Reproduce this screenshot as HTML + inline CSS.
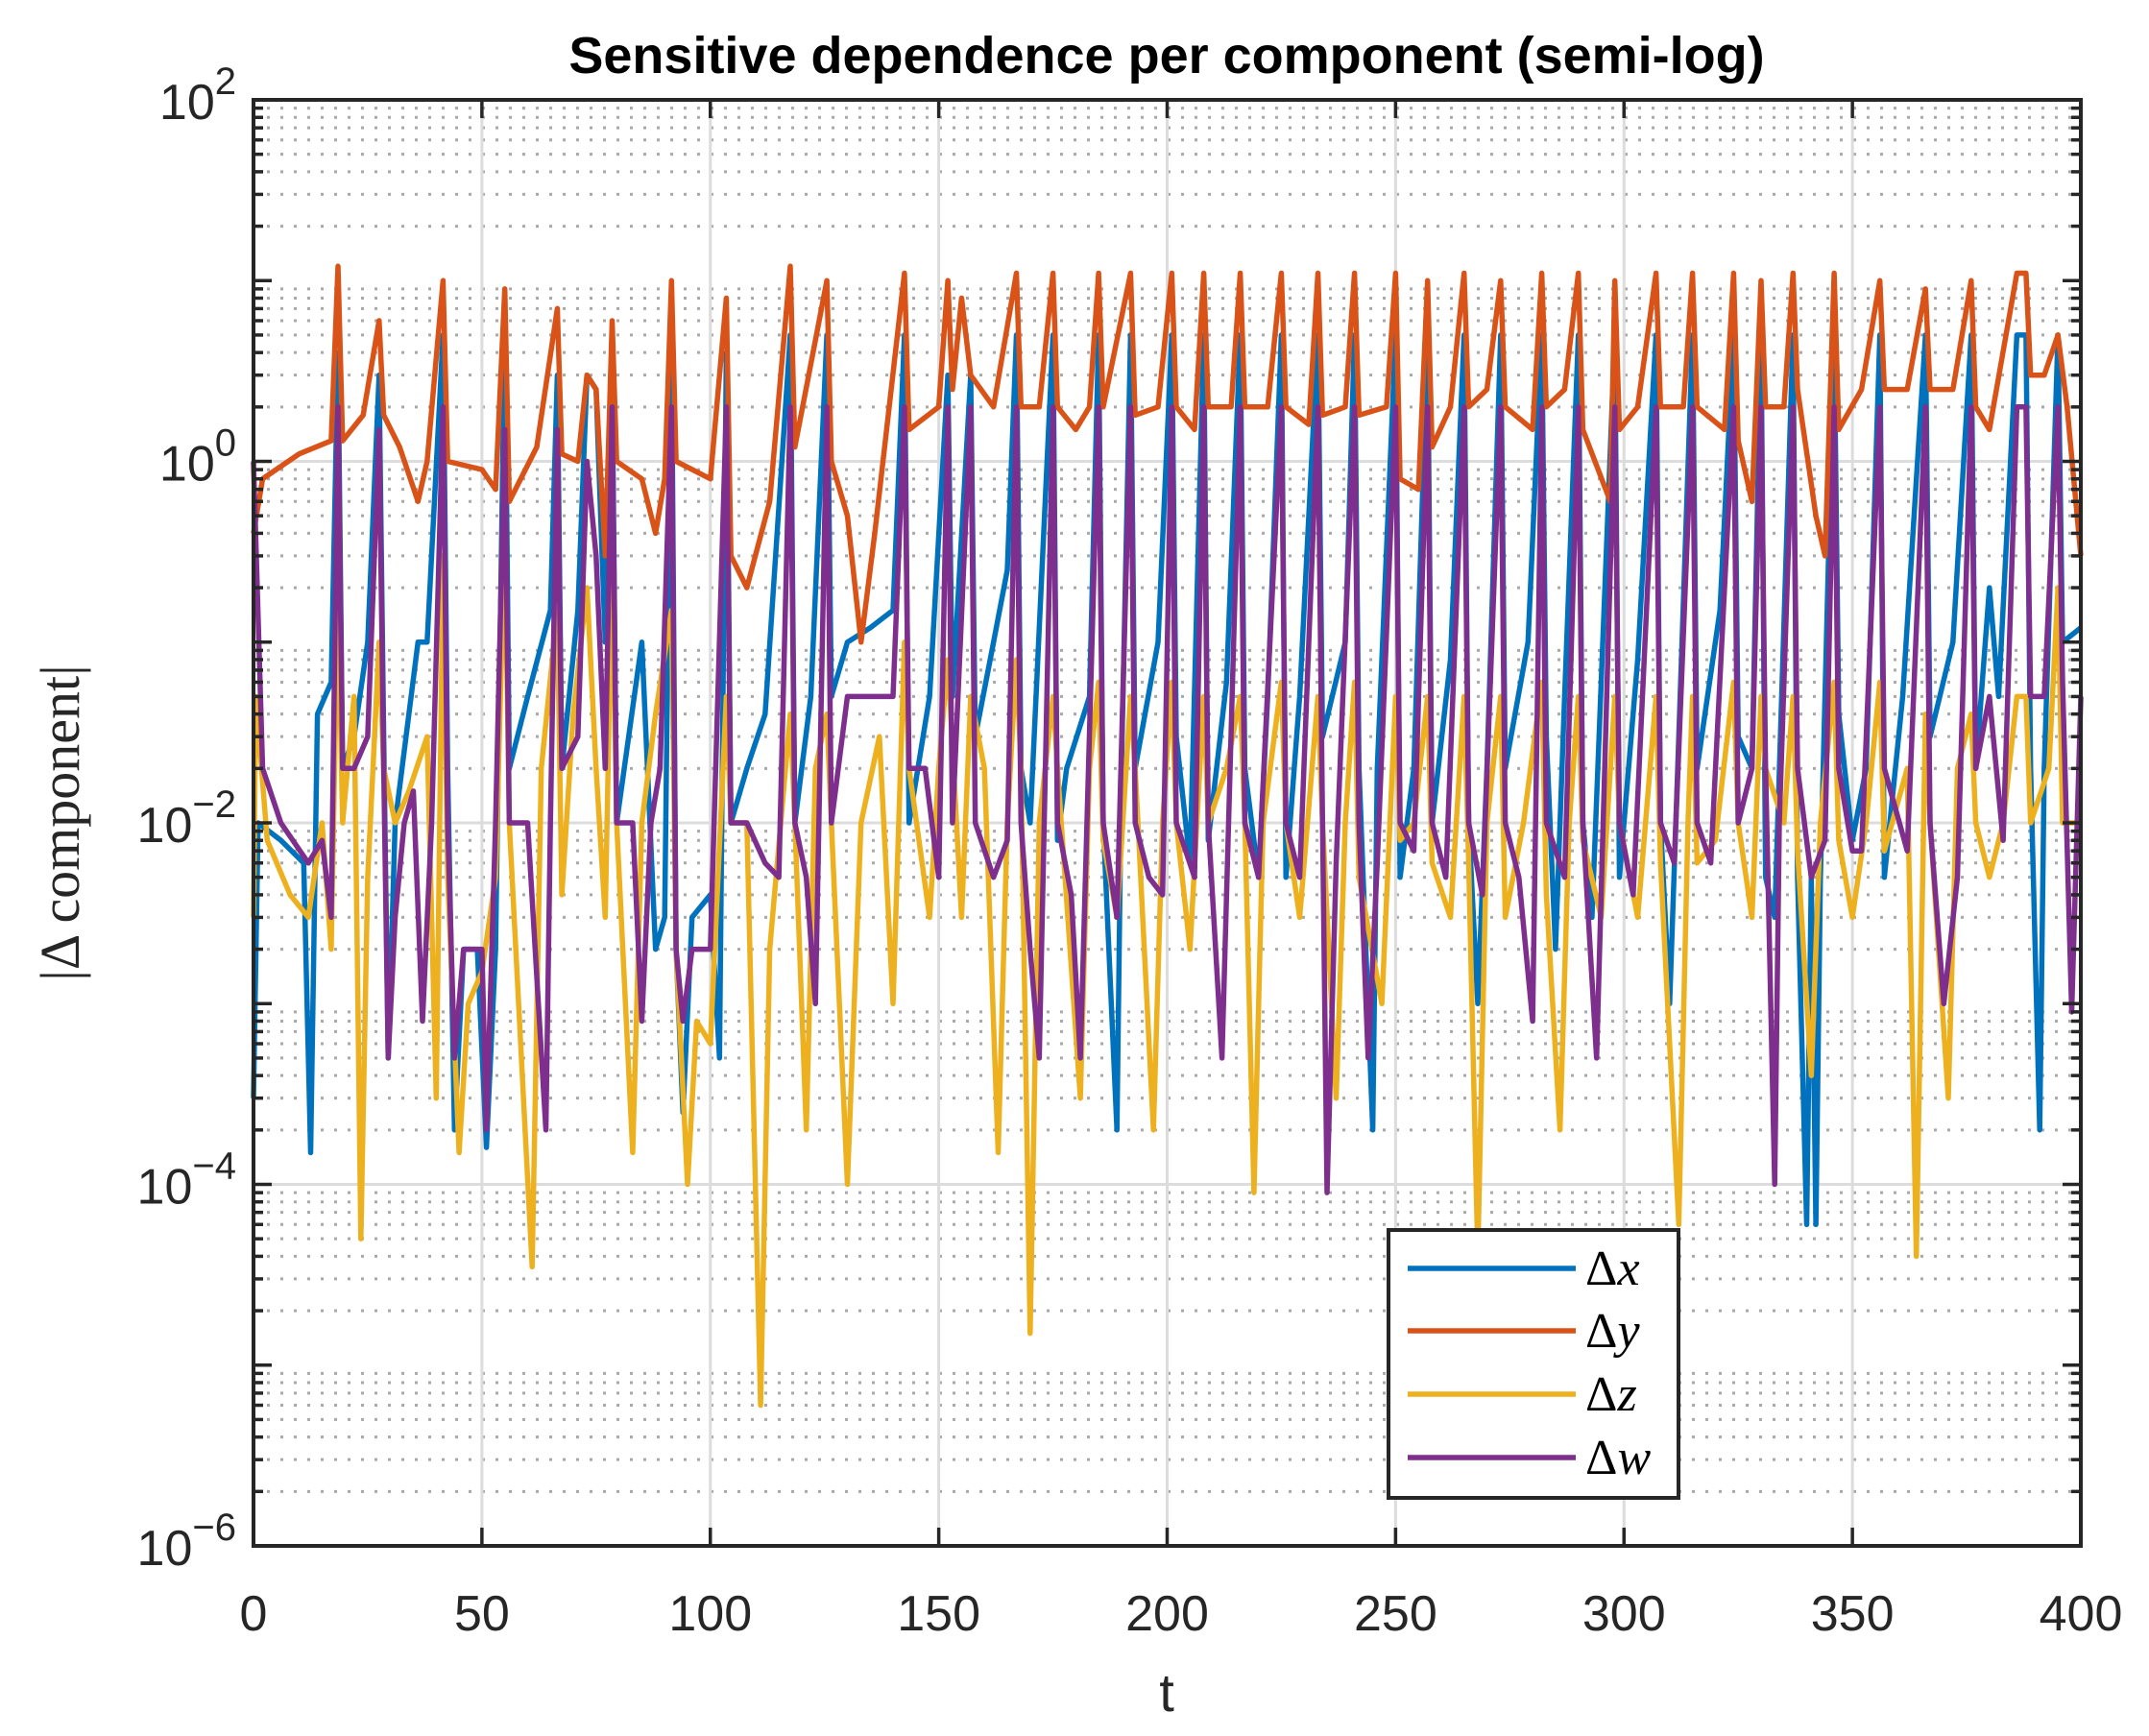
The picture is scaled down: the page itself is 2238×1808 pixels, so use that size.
<!DOCTYPE html>
<html><head><meta charset="utf-8"><style>
html,body{margin:0;padding:0;background:#fff;}
svg{display:block;font-family:"Liberation Sans",sans-serif;}
</style></head><body>
<svg id="chart" width="2238" height="1808" viewBox="0 0 2238 1808" xmlns="http://www.w3.org/2000/svg">
<rect width="2238" height="1808" fill="#fff"/>
<g id="grid"></g>
<g id="series"></g>
<g id="axes"></g>
<text x="1215" y="76" text-anchor="middle" font-size="54" font-weight="bold" fill="#000">Sensitive dependence per component (semi-log)</text>
<text x="1215" y="1782" text-anchor="middle" font-size="56" fill="#262626">t</text>
<text transform="translate(82,857) rotate(-90)" text-anchor="middle" font-size="58" font-family="Liberation Serif, serif" fill="#262626">|Δ component|</text>
<g id="legend"></g>
</svg>
<script>
const xTicks=[0,50,100,150,200,250,300,350,400];
const yDecades=[-6,-4,-2,0,2];
const seriesNames=["Δx","Δy","Δz","Δw"];
const seriesColors=["#0072BD","#D95319","#EDB120","#7E2F8E"];

const dxT=[0,1,6,11,12.5,14,17,18.5,19.5,22,25,27.5,28.5,29.5,31,36,38,41.5,42.5,44,46,49,51,53,55,56,60,65,66.5,67.5,71,73,75,77,78.5,79.5,85,88,90,91.5,92.5,94,96,100,102,103.5,104.5,108,112,117.5,118.5,122,125.5,126.5,130,135,140,142.5,143.5,148,152,153,157,158,162,165,167,168,170,175,176,178,183,185,186,189,190,192,193,198,201,202,205,208,209,213,216,217,220,222,225,226,229,233,234,239,241,242,245,246,250,251,254,257,258,262,265,266,268,270,273,274,279,282,283,285,287,290,291,293,298,299,303,307,308,310,312,315,316,321,324,325,328,330,331,333,337,338,340,341,342,343,346,347,350,353,356,357,361,366,367,372,376,377,380,382,386,388,389,391,392,395,396,400];
const dxV=[3e-4,0.01,0.008,0.006,1.5e-4,0.04,0.06,4,0.02,0.03,0.1,3,0.03,5e-4,0.01,0.1,0.1,5,0.02,2e-4,0.002,0.002,1.6e-4,0.002,6,0.02,0.05,0.15,3,0.02,0.15,3,2.5,0.1,3,0.01,0.1,0.002,0.003,5,0.002,2.5e-4,0.003,0.004,5e-4,4,0.01,0.02,0.04,5,0.01,0.05,5,0.05,0.1,0.12,0.15,5,0.01,0.05,3,0.05,3,0.03,0.1,0.25,5,0.02,0.01,5,0.008,0.02,0.05,5,0.01,2e-4,0.02,5,0.02,0.1,5,0.03,0.006,5,0.008,0.06,5,0.02,0.005,0.05,5,0.005,0.05,5,0.03,0.1,5,0.02,2e-4,0.02,5,0.005,0.02,5,0.01,0.08,5,0.01,0.001,0.02,5,0.02,0.1,5,0.03,0.002,0.05,5,0.01,0.003,5,0.005,0.08,5,0.01,0.001,0.03,5,0.02,0.15,5,0.03,0.02,5,0.005,0.003,5,0.005,6e-5,0.005,6e-5,0.005,5,0.04,0.008,0.02,5,0.005,0.05,5,0.03,0.1,5,0.02,0.2,0.05,5,5,0.02,2e-4,0.02,5,0.1,0.12];

const dyT=[0,2,10,17,18.5,19.5,24,27.5,28.5,32,36,38,41.5,42.5,50,53,55,56,62,66.5,67.5,71,73,75,77,78.5,79.5,85,88,90,91.5,92.5,100,103.5,104.5,108,113,117.5,118.5,125.5,126.5,130,133,136,142.5,143.5,150,152,153,155,157,162,167,168,172,175,176,180,183,185,186,192,193,198,201,202,206,208,209,214,216,217,222,225,226,231,233,234,239,241,242,248,250,251,255,257,258,262,265,266,270,273,274,280,282,283,287,290,291,297,298,299,303,307,308,313,315,316,322,324,325,328,330,331,335,337,338,342,344,346,347,352,356,357,362,366,367,372,376,377,380,386,388,389,392,395,397,400];
const dyV=[0.4,0.8,1.1,1.3,12,1.3,1.8,6,1.8,1.2,0.6,1.0,10,1,0.9,0.7,9,0.6,1.2,7,1.1,1.0,3,2.5,0.3,6,1,0.8,0.4,0.8,10,1,0.8,8,0.3,0.2,0.6,12,1.2,10,1,0.5,0.1,0.4,11,1.5,2,10,2.5,8,3,2,11,2,2,11,2,1.5,2,11,2,11,1.8,2,11,2,1.5,11,2,2,11,2,2,11,2,1.6,11,1.8,2,11,1.8,2,11,0.8,0.7,10,1.2,2,11,2,2.5,10,2,1.5,11,2,2.5,11,1.5,0.6,10,1.5,2,11,2,2,11,2,1.5,11,1.3,0.6,10,2,2,11,2.5,0.5,0.3,11,1.5,2.5,10,2.5,2.5,9,2.5,2.5,10,2,1.5,11,11,3,3,5,2,0.3];

const dzT=[0,0.5,3,8,12,15,17,18.5,19.5,22,23.5,25,27.5,28.5,31,34,38,40,41.5,42.5,45,47,50,53,55,56,61,63,66.5,67.5,70,73,75,77,78.5,79.5,83,85,88,91.5,92.5,95,97,100,103.5,104.5,108,111,113,117.5,118.5,121,123,125.5,126.5,130,133,137,140,142.5,143.5,148,150,152,155,157,160,163,165,167,168,170,172,175,176,181,183,185,186,189,192,193,197,199,201,202,205,208,209,213,216,217,219,221,225,226,229,233,234,237,239,241,242,247,250,251,254,257,258,262,265,266,268,270,273,274,278,282,283,286,288,290,291,295,298,299,303,307,308,312,314,315,316,320,324,325,328,330,331,335,337,338,341,343,346,347,350,353,356,357,362,364,366,367,371,373,376,377,380,383,386,388,389,393,395,396,400];
const dzV=[0.003,0.05,0.008,0.004,0.003,0.01,0.002,0.2,0.01,0.05,5e-5,0.005,0.1,0.02,0.01,0.015,0.03,3e-4,0.3,0.005,1.5e-4,0.001,0.0015,0.005,0.4,0.01,3.5e-5,0.02,0.15,0.004,0.04,0.2,0.02,0.003,0.3,0.01,1.5e-4,0.01,0.04,0.15,0.002,1e-4,8e-4,6e-4,0.05,0.01,0.01,6e-6,0.002,0.04,0.01,2e-4,0.02,0.04,0.01,1e-4,0.01,0.03,1e-3,0.1,0.02,0.003,0.02,0.08,0.003,0.05,0.02,1.5e-4,0.01,0.08,0.02,1.5e-5,0.01,0.05,0.02,3e-4,0.02,0.06,0.008,0.003,0.05,0.02,2e-4,0.01,0.06,0.01,0.002,0.05,0.01,0.02,0.05,0.01,9e-5,0.01,0.06,0.01,0.003,0.05,0.01,3e-4,0.01,0.06,0.005,0.001,0.05,0.008,0.01,0.05,0.006,0.003,0.05,0.006,4e-5,0.01,0.05,0.003,0.01,0.06,0.004,2e-4,0.01,0.05,0.008,0.003,0.05,0.01,0.003,0.05,0.006,6e-5,0.01,0.05,0.006,0.008,0.06,0.01,0.003,0.05,0.02,0.01,0.05,0.007,4e-4,0.01,0.06,0.008,0.003,0.01,0.06,0.007,0.02,4e-5,0.04,0.01,3e-4,0.02,0.04,0.01,0.005,0.01,0.05,0.05,0.01,0.02,0.2,0.01,0.01];

const dwT=[0,2,6,12,15,17,18.5,19.5,22,25,27.5,28.5,29.5,31,33,35,37,39,41.5,42.5,44,46,50,51,53,55,56,60,64,65,66.5,67.5,71,73,75,77,78.5,79.5,83,85,87,89,91.5,92.5,94,96,100,103.5,104.5,108,112,115,117.5,118.5,121,123,125.5,126.5,130,136,140,142.5,143.5,147,150,152,153,157,158,162,165,167,168,170,172,175,176,179,181,185,186,189,192,193,196,199,201,202,206,208,209,212,216,217,220,225,226,229,233,234,235,237,241,242,244,246,250,251,254,257,258,261,265,266,269,273,274,277,280,282,283,287,290,291,294,298,299,302,307,308,311,315,316,319,324,325,328,330,331,333,334,337,338,341,344,346,347,350,352,356,357,362,366,367,370,373,376,377,380,383,386,388,389,392,395,396,398,400];
const dwV=[1.0,0.02,0.01,0.006,0.008,0.003,2,0.02,0.02,0.03,1.5,0.02,5e-4,0.003,0.01,0.015,8e-4,0.01,2,0.01,5e-4,0.002,0.002,2e-4,0.01,1.5,0.01,0.01,2e-4,0.01,1.5,0.02,0.03,1,0.3,0.02,2,0.01,0.01,8e-4,0.01,0.02,2,0.002,8e-4,0.002,0.002,2,0.01,0.01,0.006,0.005,2,0.01,0.005,0.001,2,0.01,0.05,0.05,0.05,2,0.02,0.02,0.005,2,0.01,2,0.01,0.005,0.008,2,0.01,0.002,5e-4,2,0.01,0.004,5e-4,2,0.01,0.003,2,0.01,0.005,0.004,2,0.01,0.005,2,0.01,5e-4,2,0.01,0.005,2,0.01,0.005,2,0.01,9e-5,0.006,2,0.01,5e-4,0.006,2,0.01,0.007,2,0.01,0.005,2,0.01,0.004,2,0.01,0.005,8e-4,2,0.01,0.005,2,0.01,5e-4,2,0.01,0.004,2,0.01,0.006,2,0.01,0.006,2,0.01,0.02,2,0.02,1e-4,0.01,2,0.02,0.005,0.008,2,0.02,0.007,0.007,2,0.02,0.007,2,0.01,0.001,0.005,2,0.02,0.05,0.008,2,2,0.05,0.05,2,0.06,9e-4,0.05];

const NS="http://www.w3.org/2000/svg";
const L=264,R=2167,T=104,B=1610;
const xMin=0,xMax=400,yMinExp=-6,yMaxExp=2;
function xs(t){return L+(t-xMin)/(xMax-xMin)*(R-L);}
function ys(v){return B-(Math.log10(v)-yMinExp)/(yMaxExp-yMinExp)*(B-T);}
function mk(tag,attrs,parent){const e=document.createElementNS(NS,tag);for(const k in attrs)e.setAttribute(k,attrs[k]);parent.appendChild(e);return e;}

const grid=document.getElementById('grid');
for(let d=yMinExp;d<yMaxExp;d++){
  for(let m=2;m<=9;m++){
    const y=ys(m*Math.pow(10,d));
    const ln=mk('line',{x1:L,x2:R,y1:y,y2:y,stroke:'#a8a8a8','stroke-width':3,'stroke-dasharray':'3 11'},grid);
    
    
  }
}
xTicks.forEach(t=>{
  const x=xs(t);
  const ln=mk('line',{x1:x,x2:x,y1:T,y2:B,stroke:'#dcdcdc','stroke-width':3},grid);
  
  
});
yDecades.forEach(d=>{
  const y=ys(Math.pow(10,d));
  const ln=mk('line',{x1:L,x2:R,y1:y,y2:y,stroke:'#dcdcdc','stroke-width':3},grid);
  
  
});

const sg=document.getElementById('series');
const allT=[dxT,dyT,dzT,dwT],allV=[dxV,dyV,dzV,dwV];
for(let s=0;s<4;s++){
  let d='';
  allT[s].forEach((t,i)=>{d+=(i?'L':'M')+xs(t).toFixed(1)+','+ys(allV[s][i]).toFixed(1);});
  const p=mk('path',{d:d,fill:'none',stroke:seriesColors[s],'stroke-width':5.5,'stroke-linejoin':'round'},sg);
  
  
}

const ax=document.getElementById('axes');
const box=mk('rect',{x:L,y:T,width:R-L,height:B-T,fill:'none',stroke:'#262626','stroke-width':4},ax);


xTicks.forEach(t=>{
  const x=xs(t);
  mk('line',{x1:x,x2:x,y1:B,y2:B-19,stroke:'#262626','stroke-width':3.5},ax);
  mk('line',{x1:x,x2:x,y1:T,y2:T+19,stroke:'#262626','stroke-width':3.5},ax);
  const tx=mk('text',{x:x,y:1698,'text-anchor':'middle','font-size':52,fill:'#262626'},ax);
  tx.textContent=String(t);
  
  
});
for(let d=yMinExp;d<=yMaxExp;d++){
  for(let m=1;m<=9;m++){
    if(d===yMaxExp&&m>1)break;
    const y=ys(m*Math.pow(10,d));
    const len=m===1?19:10;
    mk('line',{x1:L,x2:L+len,y1:y,y2:y,stroke:'#262626','stroke-width':3.5},ax);
    mk('line',{x1:R,x2:R-len,y1:y,y2:y,stroke:'#262626','stroke-width':3.5},ax);
  }
}
yDecades.forEach(d=>{
  const y=ys(Math.pow(10,d));
  const g=mk('text',{x:246,y:y+20,'text-anchor':'end','font-size':52,fill:'#262626'},ax);
  
  
  const b=mk('tspan',{},g);b.textContent='10';
  const sup=mk('tspan',{dy:-26,'font-size':40},g);sup.textContent=(d<0?'−':'')+Math.abs(d);
});

const lg=document.getElementById('legend');
const lb=mk('rect',{x:1446,y:1281,width:302,height:279,fill:'#fff',stroke:'#262626','stroke-width':4},lg);


const ly=[1321,1386,1452,1518];
seriesNames.forEach((n,i)=>{
  const l=mk('line',{x1:1466,x2:1641,y1:ly[i],y2:ly[i],stroke:seriesColors[i],'stroke-width':5.5},lg);
  
  
  const t=mk('text',{x:1651,y:ly[i]+17,'font-size':52,'font-family':'Liberation Serif, serif',fill:'#000'},lg);
  
  
  const a=mk('tspan',{},t);a.textContent='Δ';
  const b=mk('tspan',{'font-style':'italic'},t);b.textContent=n.slice(1);
});
</script>
</body></html>
